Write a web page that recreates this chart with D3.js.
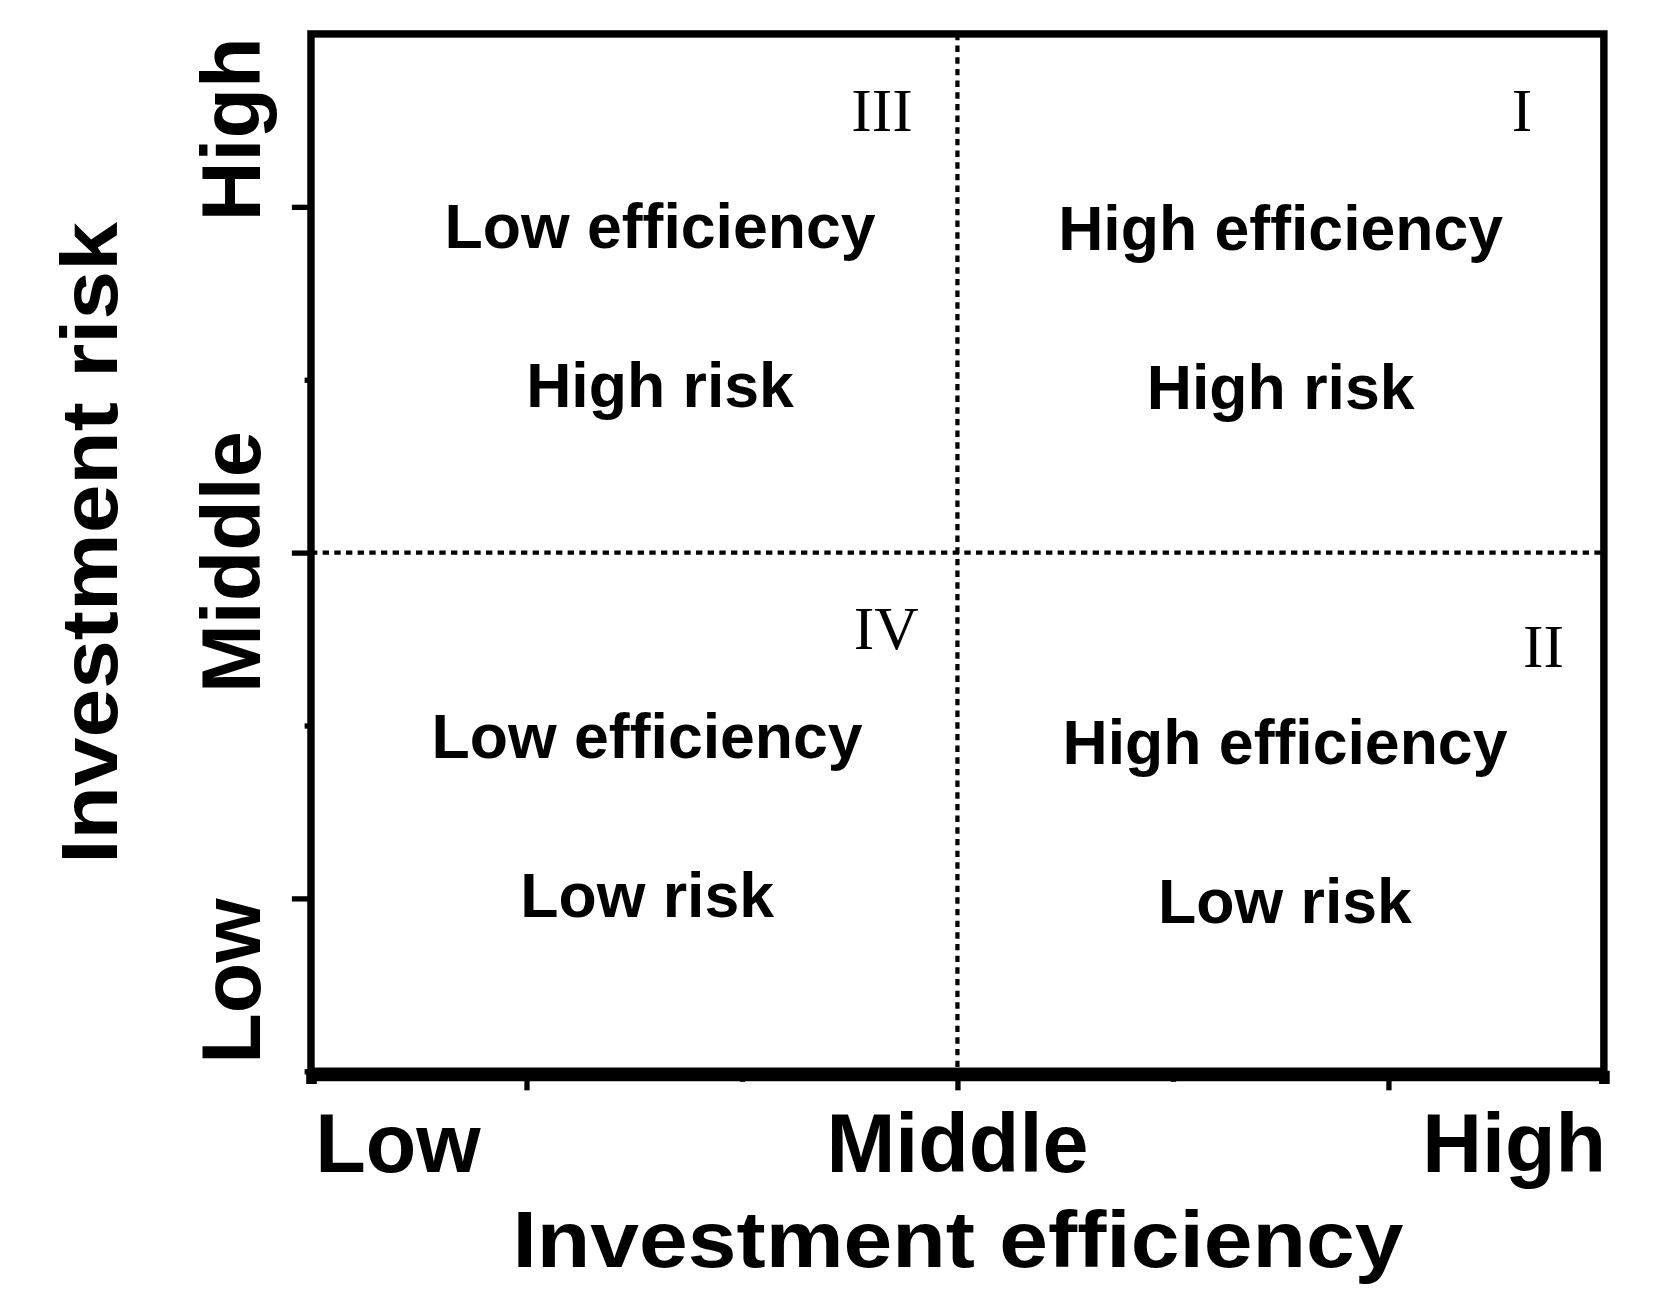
<!DOCTYPE html>
<html>
<head>
<meta charset="utf-8">
<script src="https://cdn.jsdelivr.net/npm/d3@7"></script>
<style>
  body { margin: 0; background: #fff; }
  text { font-family: "Liberation Sans", Arial, sans-serif; font-weight: bold; fill: #000; }
  .num { font-family: "Liberation Serif", "Times New Roman", serif; font-weight: normal; }
</style>
</head>
<body>
<svg id="chart" width="1655" height="1312" viewBox="0 0 1560 1237"></svg>
<script>
// axis categories
var levels = ["Low", "Middle", "High"];
var levelPos = [1, 3, 5];
var xTicks = [0, 1, 2, 3, 4, 5, 6];
var yTicks = [0, 1, 2, 3, 4, 5];
var majorTicks = [1, 3, 5];

// quadrants: numeral, two text lines, center (data units)
var quadNum = ["I", "II", "III", "IV"];
var quadLine1 = ["High efficiency", "High efficiency", "Low efficiency", "Low efficiency"];
var quadLine2 = ["High risk", "Low risk", "High risk", "Low risk"];
var quadX = [4.50, 4.52, 1.62, 1.56];
var quadY = [4.75, 1.78, 4.76, 1.81];
var numX = [5.62, 5.72, 2.65, 2.67];
var numY = [5.55, 2.45, 5.55, 2.55];

var svg = d3.select("#chart");
var x = d3.scaleLinear().domain([0, 6]).range([293, 1512]);
var y = d3.scaleLinear().domain([0, 6]).range([1010, 32]);

// frame
svg.append("rect")
  .attr("x", x(0)).attr("y", y(6))
  .attr("width", x(6) - x(0)).attr("height", y(0) - y(6))
  .attr("fill", "none").attr("stroke", "#000").attr("stroke-width", 7);

// dotted dividers
svg.append("line")
  .attr("x1", x(3)).attr("x2", x(3)).attr("y1", y(6)).attr("y2", y(0))
  .attr("stroke", "#000").attr("stroke-width", 4).attr("stroke-dasharray", "6,5");
svg.append("line")
  .attr("x1", x(0)).attr("x2", x(6)).attr("y1", y(3)).attr("y2", y(3))
  .attr("stroke", "#000").attr("stroke-width", 4).attr("stroke-dasharray", "6,5");

// bottom axis (thick)
var xAxis = svg.append("g").attr("transform", "translate(0," + (y(0) + 4) + ")")
  .call(d3.axisBottom(x).tickValues(xTicks).tickFormat("").tickSizeOuter(0)
    .tickSize(8));
xAxis.select(".domain").attr("stroke-width", 10);
xAxis.selectAll(".tick line").attr("stroke-width", 5)
  .attr("y2", function (d) { return majorTicks.indexOf(d) >= 0 ? 14 : 6; });

// left axis
var yAxis = svg.append("g").attr("transform", "translate(" + (x(0) - 2) + ",0)")
  .call(d3.axisLeft(y).tickValues(yTicks).tickFormat("").tickSizeOuter(0).tickSize(8));
yAxis.select(".domain").remove();
yAxis.selectAll(".tick line").attr("stroke-width", 5)
  .attr("x2", function (d) { return majorTicks.indexOf(d) >= 0 ? -16 : -4; });

// x category labels
svg.selectAll(".xl").data(levels).join("text")
  .attr("class", "xl")
  .attr("x", function (d, i) { return i === 0 ? x(0) + 4 : i === 2 ? x(6) + 2 : x(levelPos[i]); })
  .attr("y", 1105)
  .attr("text-anchor", function (d, i) { return ["start", "middle", "end"][i]; })
  .style("font-size", "78px")
  .text(function (d) { return d; });

svg.append("text").attr("x", 903).attr("y", 1195).attr("text-anchor", "middle")
  .attr("textLength", 840).attr("lengthAdjust", "spacingAndGlyphs")
  .style("font-size", "76px").text("Investment efficiency");

// y category labels (rotated)
var yLabelCenter = [122, 530, 925];
svg.selectAll(".yl").data(levels).join("text")
  .attr("class", "yl")
  .attr("transform", function (d, i) { return "translate(245," + [925, 530, 122][i] + ") rotate(-90)"; })
  .attr("text-anchor", "middle")
  .style("font-size", "78px")
  .text(function (d) { return d; });

svg.append("text").attr("transform", "translate(110,512) rotate(-90)")
  .attr("text-anchor", "middle")
  .attr("textLength", 605).attr("lengthAdjust", "spacingAndGlyphs")
  .style("font-size", "76px").text("Investment risk");

// quadrant texts
var q = svg.selectAll(".q").data(quadNum).join("g").attr("class", "q");
q.append("text").attr("x", function (d, i) { return x(quadX[i]); })
  .attr("y", function (d, i) { return y(quadY[i]); })
  .attr("text-anchor", "middle").style("font-size", "59px")
  .text(function (d, i) { return quadLine1[i]; });
q.append("text").attr("x", function (d, i) { return x(quadX[i]); })
  .attr("y", function (d, i) { return y(quadY[i]) + 150; })
  .attr("text-anchor", "middle").style("font-size", "59px")
  .text(function (d, i) { return quadLine2[i]; });
q.append("text").attr("class", "num")
  .attr("x", function (d, i) { return x(numX[i]); })
  .attr("y", function (d, i) { return y(numY[i]) + 18; })
  .attr("text-anchor", "middle").style("font-size", "58px")
  .text(function (d) { return d; });
</script>
</body>
</html>
